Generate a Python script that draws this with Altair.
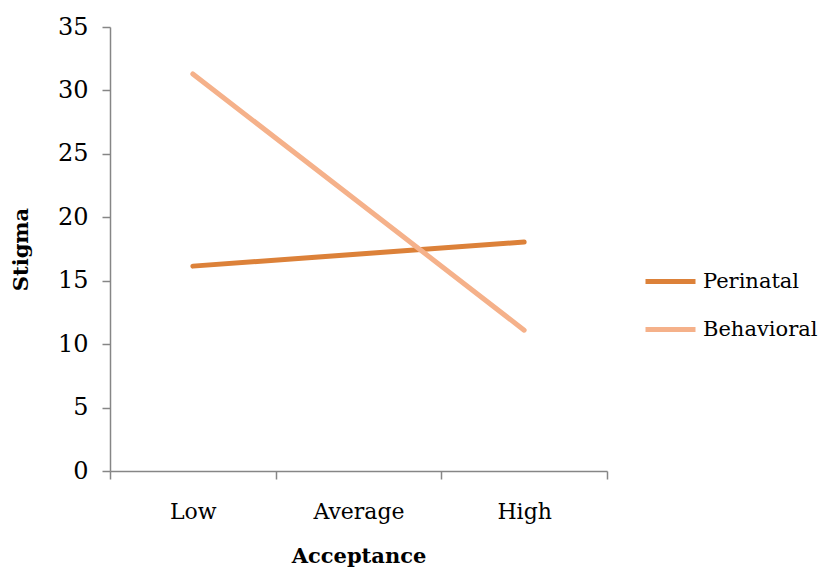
import altair as alt
import pandas as pd

categories = ["Low", "Average", "High"]
series = ["Perinatal", "Behavioral"]
acceptance = ["Low", "High"]
perinatal = [16.15, 18.05]
behavioral = [31.3, 11.1]

rows = []
for a, v in zip(acceptance, perinatal):
    rows.append({"Acceptance": a, "Stigma": v, "Series": "Perinatal"})
for a, v in zip(acceptance, behavioral):
    rows.append({"Acceptance": a, "Stigma": v, "Series": "Behavioral"})
df = pd.DataFrame(rows)

FONT = "DejaVu Serif"
AXC = "#868686"

chart = alt.Chart(df).mark_line(strokeWidth=5, strokeCap="round").encode(
    x=alt.X("Acceptance:N", sort=categories,
            scale=alt.Scale(domain=categories, type="band", paddingInner=0, paddingOuter=0),
            axis=alt.Axis(title="Acceptance", labelAngle=0, tickBand="extent",
                          labelPadding=22, titlePadding=23, labelFontSize=22)),
    y=alt.Y("Stigma:Q", scale=alt.Scale(domain=[0, 35], nice=False),
            axis=alt.Axis(title="Stigma", values=[0, 5, 10, 15, 20, 25, 30, 35],
                          labelPadding=14, titlePadding=26, grid=False, labelFontSize=24)),
    color=alt.Color("Series:N", sort=series,
                    scale=alt.Scale(domain=series, range=["#DC8139", "#F5B18A"]),
                    legend=alt.Legend(title=None, orient="none", legendX=533, legendY=227,
                                      symbolType="stroke", symbolSize=2500,
                                      symbolStrokeWidth=5, labelFontSize=21,
                                      labelFont=FONT, labelColor="#000000",
                                      rowPadding=10, labelOffset=5)),
    detail="Series:N",
).properties(
    width=497, height=444,
    padding={"left": 102, "top": 19, "right": 215, "bottom": 97},
    autosize=alt.AutoSizeParams(type="none"),
).configure_axis(
    domainColor=AXC, tickColor=AXC, domainWidth=1.5, tickWidth=1.5, tickSize=8,
    labelFont=FONT, labelColor="#000000",
    titleFont=FONT, titleFontSize=21, titleFontWeight="bold", titleColor="#000000",
).configure_view(stroke=None)

chart.save("out.html", embed_options={"renderer": "svg", "actions": False})
